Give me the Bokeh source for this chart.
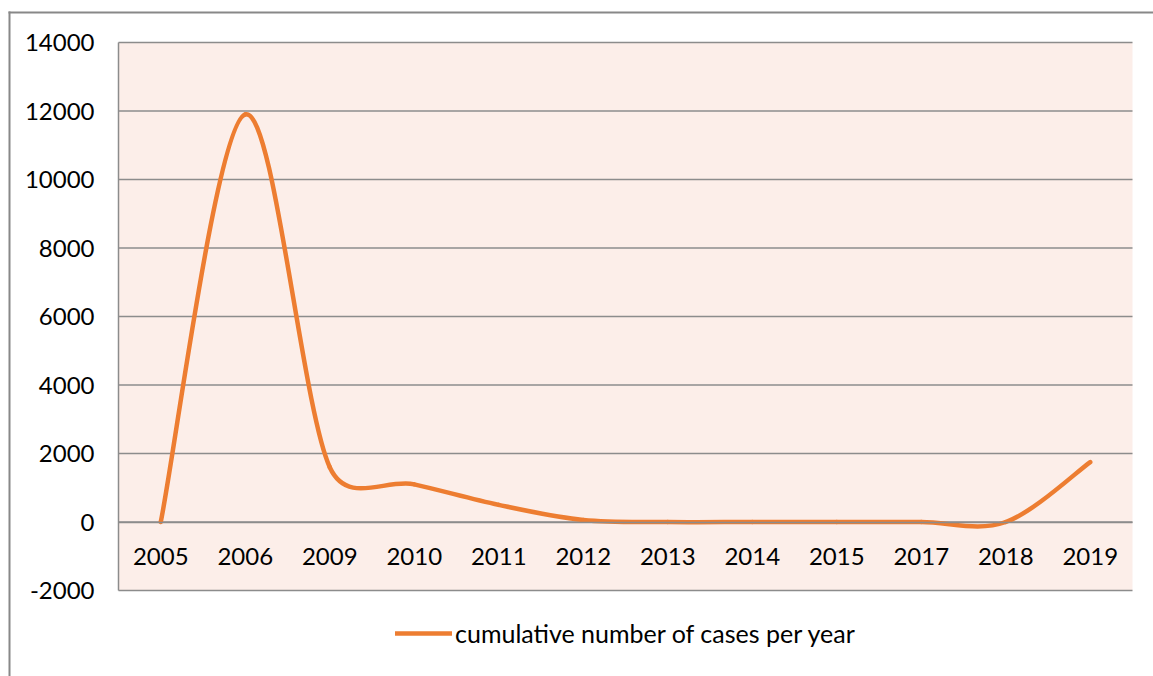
import numpy as np
from bokeh.plotting import figure
from bokeh.models import Range1d, FixedTicker, Legend, LegendItem, BoxAnnotation
from bokeh.embed import file_html
from bokeh.resources import INLINE

# ---- data ----
years = ["2005", "2006", "2009", "2010", "2011", "2012", "2013", "2014",
         "2015", "2017", "2018", "2019"]
cases = [0, 11900, 1600, 1100, 500, 60, 0, 0, 0, 0, 0, 1750]
y_ticks = [-2000, 0, 2000, 4000, 6000, 8000, 10000, 12000, 14000]
series_name = "cumulative number of cases per year"

# ---- styling / layout (pixels) ----
ORANGE = "#ED7D31"
GRID = "#8c8c8c"
PINK = "#FCEEE9"
FONT = "Lato"
FS = "24px"
W, H = 1153, 676
PL, PR, PT, PB = 118, 1132, 42, 590      # plot-area box inside the canvas
YMIN, YMAX = y_ticks[0], y_ticks[-1]
n = len(years)
sx = (PR - PL) / n                      # px per category
sy = (PB - PT) / (YMAX - YMIN)          # px per unit
XL, XR = -0.5, n - 0.5

p = figure(width=W, height=H, output_backend="svg", toolbar_location=None,
           x_range=Range1d(XL - PL / sx, XR + (W - PR) / sx),
           y_range=Range1d(YMIN - (H - PB) / sy, YMAX + PT / sy),
           min_border=0)
p.background_fill_color = "white"
p.border_fill_color = "white"
p.outline_line_color = None

# plot-area fill
p.quad(left=[XL], right=[XR], bottom=[YMIN], top=[YMAX],
       fill_color=PINK, line_color=None)

# horizontal gridlines
p.segment(x0=[XL] * len(y_ticks), x1=[XR] * len(y_ticks), y0=y_ticks, y1=y_ticks,
          line_color=GRID, line_width=1.5)

# ---- Excel-like smoothed line (cubic Bezier segments) ----
xs = np.arange(n, dtype=float)
ys = np.array(cases, dtype=float)
P = np.column_stack([xs * sx, ys * sy])


def ctrl(i):
    p0 = P[max(i - 1, 0)]
    p1 = P[i]
    p2 = P[i + 1]
    p3 = P[min(i + 2, len(P) - 1)]
    d02 = np.hypot(*(p2 - p0))
    d12 = np.hypot(*(p2 - p1))
    d13 = np.hypot(*(p3 - p1))
    f1 = 1 / 6 if d02 / 6 < d12 / 2 else d12 / (2 * d02)
    f2 = 1 / 6 if d13 / 6 < d12 / 2 else d12 / (2 * d13)
    return p1 + (p2 - p0) * f1, p2 - (p3 - p1) * f2


segs = [ctrl(i) for i in range(n - 1)]
curve = p.bezier(x0=xs[:-1], y0=ys[:-1], x1=xs[1:], y1=ys[1:],
                 cx0=[c[0][0] / sx for c in segs], cy0=[c[0][1] / sy for c in segs],
                 cx1=[c[1][0] / sx for c in segs], cy1=[c[1][1] / sy for c in segs],
                 line_color=ORANGE, line_width=4.5, line_cap="round")

legend = Legend(items=[LegendItem(label=series_name, renderers=[curve])],
                location=(395, H - 648), orientation="horizontal",
                border_line_color=None, background_fill_alpha=0,
                padding=0, spacing=0, margin=0,
                glyph_width=57, glyph_height=26, label_height=26,
                label_standoff=3, label_text_font=FONT,
                label_text_font_size="25px", label_text_color="black")
p.add_layout(legend)

# ---- axes ----
p.xgrid.visible = False
p.ygrid.visible = False

p.yaxis.fixed_location = XL
p.yaxis.bounds = (YMIN, YMAX)
p.yaxis.ticker = FixedTicker(ticks=y_ticks)
p.yaxis.major_label_overrides = {v: str(v) for v in y_ticks}
p.yaxis.axis_line_color = GRID
p.yaxis.axis_line_width = 1.5
p.yaxis.major_tick_line_color = None
p.yaxis.minor_tick_line_color = None
p.yaxis.major_label_standoff = 18
p.yaxis.major_label_text_font = FONT
p.yaxis.major_label_text_font_size = FS
p.yaxis.major_label_text_color = "black"

p.xaxis.fixed_location = 0
p.xaxis.bounds = (XL, XR)
p.xaxis.ticker = FixedTicker(ticks=list(range(n)))
p.xaxis.major_label_overrides = {i: y for i, y in enumerate(years)}
p.xaxis.axis_line_color = GRID
p.xaxis.axis_line_width = 1.5
p.xaxis.major_tick_line_color = None
p.xaxis.minor_tick_line_color = None
p.xaxis.major_label_standoff = 20
p.xaxis.major_label_text_font = FONT
p.xaxis.major_label_text_font_size = FS
p.xaxis.major_label_text_color = "black"

# outer chart border (left and top edges; right/bottom lie outside the window)
for l, r, t, b in [(8, 10, 11, H + 50), (8, W + 50, 11, 13)]:
    p.add_layout(BoxAnnotation(left=l, right=r, top=t, bottom=b,
                               left_units="canvas", right_units="canvas",
                               top_units="canvas", bottom_units="canvas",
                               fill_color="#888888", fill_alpha=1,
                               line_color=None, level="overlay"))

open("out.html", "w").write(file_html(p, INLINE))
